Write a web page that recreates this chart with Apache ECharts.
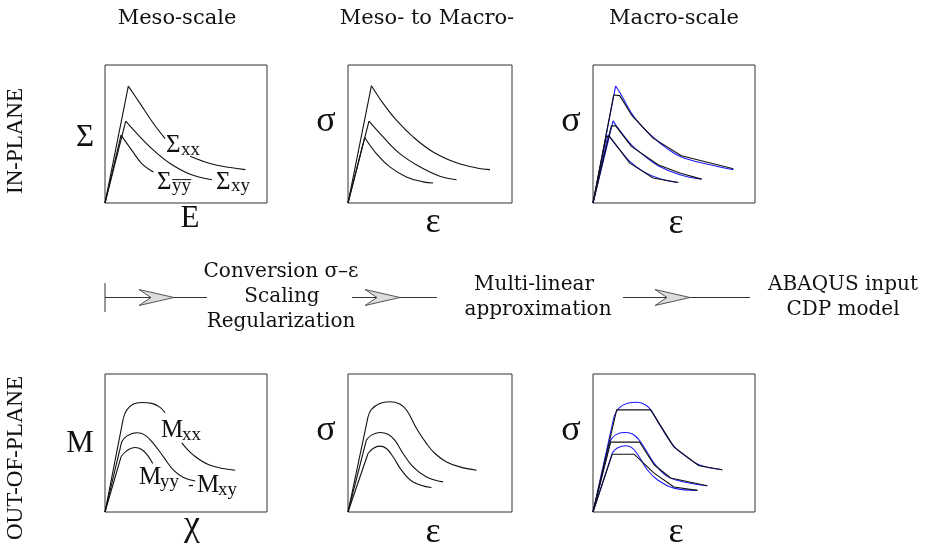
<!DOCTYPE html>
<html>
<head>
<meta charset="utf-8">
<script src="https://cdn.jsdelivr.net/npm/echarts@6/dist/echarts.min.js"></script>
<style>html,body{margin:0;padding:0;background:#fff}#c{width:925px;height:546px}</style>
</head>
<body>
<div id="c"></div>
<script>
// ---- Data (normalised 0..100 in each panel) ----
// Panel 1: Meso-scale, in-plane (Sigma vs E)
const p1Sxx = [[0,0],[14.4,84.7],[21.6,72.2],[29.9,57.6],[37.1,46.7]];
const p1SxxTail = [[52.6,33.9],[64.9,28.6],[77.3,25.7],[86.6,24.2]];
const p1Sxy = [[0,0],[12.8,59.3],[19.6,50.4],[29.9,38.3],[40.2,28.6],[52.6,20.8],[66.0,16.9]];
const p1Syy = [[0,0],[9.9,49.2],[16.5,38.3],[22.7,28.6],[29.9,22.5]];
// Panel 2: Meso- to Macro-, in-plane
const p2A = [[0,0],[14.3,85.0],[21.4,72.2],[29.5,60.0],[39.7,47.9],[51.9,37.0],[66.2,29.1],[78.4,25.4],[86.6,24.2]];
const p2B = [[0,0],[12.8,59.3],[21.4,47.9],[31.6,35.8],[43.8,26.2],[56.0,19.4],[66.2,16.9]];
const p2C = [[0,0],[10.2,47.5],[17.3,35.8],[25.5,26.2],[35.6,18.9],[45.8,15.3],[51.9,14.5]];
// Panel 3: Macro-scale, in-plane (blue = curve, black = multi-linear)
const p3BlueA = [[0,0],[14.0,84.8],[17.5,78.3],[23.7,65.1],[29.9,55.9],[37.1,47.7],[45.4,39.8],[54.6,33.3],[70.1,28.2],[86.6,24.1]];
const p3BlackA = [[0,0],[12.8,78.3],[16.5,77.8],[23.7,63.9],[37.1,47.0],[54.6,34.2],[86.6,24.8]];
const p3BlueB = [[0,0],[12.4,59.5],[14.4,55.9],[23.7,42.2],[30.9,34.9],[40.2,27.0],[53.6,20.5],[67.0,17.3]];
const p3BlackB = [[0,0],[11.3,55.9],[14.0,55.9],[23.7,41.0],[40.2,27.7],[53.6,21.7],[67.0,17.3]];
const p3BlueC = [[0,0],[9.3,49.4],[16.5,38.6],[22.7,30.1],[30.9,22.9],[41.2,17.6],[52.6,14.9]];
const p3BlackC = [[0,0],[8.2,48.2],[10.3,48.2],[22.7,28.9],[37.1,18.1],[52.6,14.9]];
// Panel 4: Meso-scale, out-of-plane (M vs chi)
const p4xx = [[0,0],[11.3,67.8],[13.4,73.8],[17.5,78.2],[22.7,79.4],[28.9,78.7],[34.0,75.8],[37.1,71.9]];
const p4xxTail = [[47.4,50.1],[54.6,41.2],[64.9,33.9],[80.4,30.3]];
const p4xy = [[0,0],[10.3,50.8],[13.4,55.0],[19.6,57.4],[24.7,55.7],[29.9,49.6],[36.1,40.0],[42.3,30.3],[48.5,25.0],[55.7,22.5]];
const p4yy = [[0,0],[9.9,40.0],[13.4,44.3],[18.6,46.7],[22.7,45.3],[26.2,41.2],[29.5,35.1]];
// Panel 5: Meso- to Macro-, out-of-plane
const p5A = [[0,0],[12.2,69.0],[14.3,74.3],[19.3,78.7],[25.5,79.9],[31.6,78.2],[36.0,73.4],[41.8,60.5],[47.9,49.6],[53.0,42.4],[60.1,36.3],[68.2,32.7],[78.4,30.3]];
const p5B = [[0,0],[11.2,52.1],[14.3,55.7],[19.3,57.6],[24.4,56.4],[28.5,52.1],[33.6,42.4],[39.7,32.7],[47.9,25.4],[58.0,21.8]];
const p5C = [[0,0],[12.2,42.4],[15.3,46.0],[19.3,47.7],[23.4,46.0],[27.5,40.0],[32.6,30.3],[39.7,21.8],[50.9,17.7]];
// Panel 6: Macro-scale, out-of-plane
const p6BlueA = [[0,0],[13.0,69.2],[16.0,75.2],[21.2,78.8],[27.4,79.5],[32.5,77.6],[36.0,73.5],[41.8,61.9],[50.0,47.5],[56.2,41.4],[65.4,34.2],[79.8,30.6]];
const p6BlackA = [[0,0],[14.6,74.0],[35.6,74.0],[50.0,47.0],[65.4,33.5],[79.8,30.6]];
const p6BlueB = [[0,0],[10.9,52.3],[14.0,55.9],[19.1,57.6],[24.3,56.6],[28.4,52.3],[32.5,45.1],[37.7,35.4],[45.9,25.8],[56.2,21.7],[70.6,19.0]];
const p6BlackB = [[0,0],[10.9,50.6],[28.8,50.6],[37.7,34.2],[47.9,24.6],[70.6,19.0]];
const p6BlueC = [[0,0],[11.9,42.7],[15.0,46.3],[20.2,48.0],[24.3,46.3],[28.4,40.2],[33.5,30.6],[39.7,23.4],[50.0,17.3],[64.4,15.7]];
const p6BlackC = [[0,0],[11.9,41.9],[25.3,41.9],[37.7,28.2],[50.0,18.1],[64.4,15.7]];

// Text content
const colTitles = ['Meso-scale', 'Meso- to Macro-', 'Macro-scale'];
const rowTitles = ['IN-PLANE', 'OUT-OF-PLANE'];
const flowTexts = [['Conversion σ–ε', 'Scaling', 'Regularization'], ['Multi-linear', 'approximation'], ['ABAQUS input', 'CDP model']];

// ---- Layout ----
const grids = [
  {left:105, top:65, width:162, height:138},
  {left:348, top:65, width:164, height:138},
  {left:593, top:65, width:162, height:138},
  {left:105, top:374, width:162, height:138},
  {left:348, top:374, width:164, height:138},
  {left:593, top:374, width:162, height:138}
].map(g => Object.assign(g, {show:true, borderColor:'#333', borderWidth:1, backgroundColor:'transparent'}));

const xAxes = grids.map((g,i) => ({gridIndex:i, type:'value', min:0, max:100, show:false}));
const yAxes = grids.map((g,i) => ({gridIndex:i, type:'value', min:0, max:100, show:false}));

const BLACK = '#111', BLUE = '#1a1aff';
const series = [];
function seg(gi, data, color, smooth, z) {
  series.push({type:'line', xAxisIndex:gi, yAxisIndex:gi, data:data, symbol:'none', smooth:smooth,
    lineStyle:{color:color, width:1.1}, silent:true, z:z||2, animation:false});
}
// curve: straight rise to pts[1], smooth from there on
function curve(gi, pts, color, z) {
  seg(gi, pts.slice(0,2), color, false, z);
  seg(gi, pts.slice(1), color, 0.4, z);
}
curve(0, p1Sxx, BLACK); seg(0, p1SxxTail, BLACK, 0.4);
curve(0, p1Sxy, BLACK); curve(0, p1Syy, BLACK);
curve(1, p2A, BLACK); curve(1, p2B, BLACK); curve(1, p2C, BLACK);
curve(2, p3BlueA, BLUE, 2); curve(2, p3BlueB, BLUE, 2); curve(2, p3BlueC, BLUE, 2);
seg(2, p3BlackA, BLACK, false, 3); seg(2, p3BlackB, BLACK, false, 3); seg(2, p3BlackC, BLACK, false, 3);
curve(3, p4xx, BLACK); seg(3, p4xxTail, BLACK, 0.4);
curve(3, p4xy, BLACK); curve(3, p4yy, BLACK);
curve(4, p5A, BLACK); curve(4, p5B, BLACK); curve(4, p5C, BLACK);
curve(5, p6BlueA, BLUE, 2); curve(5, p6BlueB, BLUE, 2); curve(5, p6BlueC, BLUE, 2);
seg(5, p6BlackA, BLACK, false, 3); seg(5, p6BlackB, BLACK, false, 3); seg(5, p6BlackC, BLACK, false, 3);

// ---- Graphic annotations ----
const SERIF_T = 'DejaVu Serif';
const TIMES = 'Liberation Serif';
const g = [];
function txt(s, x, y, size, family, align, rot) {
  g.push({type:'text', x:x, y:y, rotation:rot||0, silent:true,
    style:{text:s, x:0, y:0, font:size+'px "'+family+'"', fill:'#111', align:align||'center', verticalAlign:'middle'}});
}
// column titles
txt(colTitles[0], 177, 19, 21, SERIF_T);
txt(colTitles[1], 427, 19, 21, SERIF_T);
txt(colTitles[2], 674, 19, 21, SERIF_T);
// row titles (vertical)
txt(rowTitles[0], 16, 141, 23, TIMES, 'center', Math.PI/2);
txt(rowTitles[1], 16, 458, 23, TIMES, 'center', Math.PI/2);
// axis symbols
txt('Σ', 85, 138, 31, TIMES); txt('E', 190, 219, 31, TIMES);
txt('σ', 326, 122, 36, TIMES); txt('ε', 433, 223, 36, TIMES);
txt('σ', 571, 122, 36, TIMES); txt('ε', 676, 224, 36, TIMES);
txt('M', 80, 444, 31, TIMES); txt('χ', 192, 526, 36, TIMES);
txt('σ', 326, 431, 36, TIMES); txt('ε', 433, 533, 36, TIMES);
txt('σ', 571, 431, 36, TIMES); txt('ε', 676, 533, 36, TIMES);
// curve labels
txt('Σ', 166, 145, 25, TIMES, 'left'); txt('xx', 181, 150, 19, TIMES, 'left');
txt('Σ', 157, 182, 25, TIMES, 'left'); txt('y\u0305y\u0305', 172, 186, 19, TIMES, 'left');
txt('Σ', 216, 182, 25, TIMES, 'left'); txt('xy', 231, 186, 19, TIMES, 'left');
txt('M', 161, 430, 25, TIMES, 'left'); txt('xx', 182, 435, 19, TIMES, 'left');
txt('M', 139, 477, 25, TIMES, 'left'); txt('yy', 160, 482, 19, TIMES, 'left');
txt('-', 191, 486, 16, TIMES);
txt('M', 197, 485, 25, TIMES, 'left'); txt('xy', 218, 490, 19, TIMES, 'left');
// flow texts
txt(flowTexts[0][0], 281, 272, 20, SERIF_T);
txt(flowTexts[0][1], 282, 297, 20, SERIF_T);
txt(flowTexts[0][2], 281, 322, 20, SERIF_T);
txt(flowTexts[1][0], 534, 285, 20, SERIF_T);
txt(flowTexts[1][1], 538, 310, 20, SERIF_T);
txt(flowTexts[2][0], 843, 285, 20, SERIF_T);
txt(flowTexts[2][1], 843, 310, 20, SERIF_T);
// arrows
const AY = 297.5;
g.push({type:'line', silent:true, shape:{x1:105, y1:283, x2:105, y2:312}, style:{stroke:'#777', lineWidth:1.5}});
function arrow(x1, x2, hx) {
  g.push({type:'line', silent:true, shape:{x1:x1, y1:AY, x2:x2, y2:AY}, style:{stroke:'#333', lineWidth:1}});
  g.push({type:'polygon', silent:true, shape:{points:[[hx,AY-8],[hx+35,AY],[hx,AY+8],[hx+12,AY]]},
    style:{fill:'#dcdcdc', stroke:'#555', lineWidth:1}});
}
arrow(105, 207, 139);
arrow(352, 437, 365);
arrow(623, 750, 655);

const chart = echarts.init(document.getElementById('c'), null, {renderer:'canvas'});
chart.setOption({
  animation:false,
  backgroundColor:'#fff',
  grid:grids, xAxis:xAxes, yAxis:yAxes, series:series, graphic:g
});
</script>
</body>
</html>
